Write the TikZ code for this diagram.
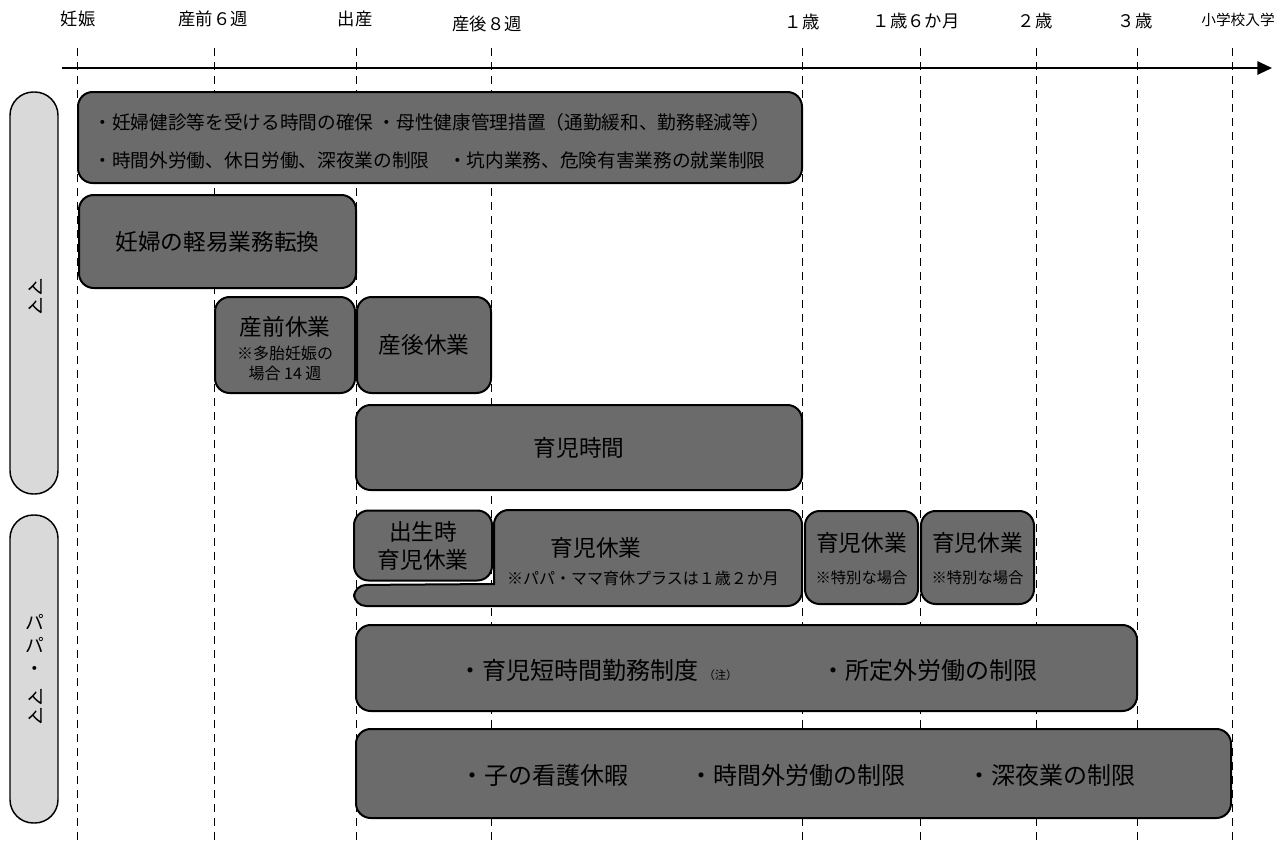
\documentclass[tikz,border=0pt]{standalone}
\usepackage{fontspec}
\setmainfont{Noto Sans CJK JP}
\usetikzlibrary{arrows.meta}

\definecolor{barfill}{RGB}{107,107,107}
\definecolor{sidefill}{RGB}{217,217,217}

\newcommand{\fsz}[1]{\fontsize{#1}{#1}\selectfont}

\tikzset{every picture/.style={line width=0.75pt}}
\tikzset{
  period/.style={draw, line width=1.5pt, fill=barfill, rounded corners=11pt, inner sep=0pt, font=\fsz{17}},
  who/.style={draw, line width=1.1pt, fill=sidefill, rounded corners=17.5pt, inner sep=0pt},
  tickline/.style={dash pattern=on 6pt off 4.5pt, line width=0.75pt},
  lbl/.style={inner sep=0pt, font=\fsz{13}},
  note/.style={inner sep=0pt, font=\fsz{12}},
}

\begin{document}
\begin{tikzpicture}[x=0.75pt,y=0.75pt,yscale=-1,xscale=1]
\useasboundingbox (0,0) rectangle (1286,850);

% Time labels
\foreach \x/\y/\t/\n in {78/19/妊娠/ninshin, 213/19/産前６週/sanzen, 355/19/出産/shussan, 487/24/産後８週/sango, 802/22/１歳/one, 916/21/１歳６か月/onehalf, 1035/21/２歳/two, 1135/21/３歳/three}
  \node[lbl] (\n) at (\x,\y) {\t};
\node[lbl, font=\fsz{11}] (entry) at (1238,20) {小学校入学};

% Dashed guides
\foreach \x [count=\i] in {77,214,356,491,802,920,1036,1137,1232}
  \draw[tickline] (\x,48) coordinate (top\i) -- (\x,845) coordinate (bot\i);

% Time axis
\coordinate (axisL) at (62,68);
\coordinate (axisR) at (1272,68);
\draw[line width=1.5pt, -{Triangle[length=11pt,width=10pt]}] (axisL) -- (axisR);

% Side labels
\node[who, minimum width=36pt, minimum height=301.5pt] (mama) at (34,293) {};
\node[inner sep=0pt, rotate=-90, font=\fsz{14}] (mamaT) at (35,296) {ママ};
\node[who, minimum width=36pt, minimum height=231pt] (papamama) at (34,669) {};
\node[inner sep=0pt, font=\fsz{14}, align=center] (papaT) at (35,645) {パ\\[3pt]パ\\[3pt]・};
\node[inner sep=0pt, rotate=-90, font=\fsz{14}] (papaM) at (35,706) {ママ};

% Text Node
\node[period, minimum width=543pt, minimum height=68.25pt] (protect) at (440,137.5) {};
\node[inner sep=0pt, anchor=west, font=\fsz{14}] (protect1) at (93,122) {・妊婦健診等を受ける時間の確保 ・母性健康管理措置（通勤緩和、勤務軽減等）};
\node[inner sep=0pt, anchor=west, font=\fsz{14}] (protect2) at (93,160) {・時間外労働、休日労働、深夜業の制限　・坑内業務、危険有害業務の就業制限};

% Text Node
\node[period, minimum width=207.75pt, minimum height=69.75pt] (light) at (217.5,241.5) {妊婦の軽易業務転換};

% Text Node
\node[period, minimum width=105pt, minimum height=72pt] (prenatal) at (285,345) {};
\node[inner sep=0pt, font=\fsz{17}] (prenatal1) at (285,327) {産前休業};
\node[note] (prenatal2) at (285,353) {※多胎妊娠の};
\node[note] (prenatal3) at (285,373) {場合 14 週};

% Text Node
\node[period, minimum width=100.5pt, minimum height=72pt] (postnatal) at (424,345) {産後休業};

% Text Node
\node[period, minimum width=334.5pt, minimum height=63.75pt] (nursing) at (579,447.5) {育児時間};

% Shape: childcare leave (L-shaped)
\draw[line width=1.5pt, fill=barfill, rounded corners=11pt]
  (494,584) -- (494,510) -- (802,510) -- (802,606)
  [rounded corners=9pt] -- (354,606) -- (354,585) [sharp corners] -- cycle;
\node[inner sep=0pt, font=\fsz{17}] (leave1) at (596,548) {育児休業};
\node[note] (leave2) at (643,578) {※パパ・ママ育休プラスは１歳２か月};

% Text Node
\node[period, minimum width=103.5pt, minimum height=52.5pt, font=\fsz{17}, align=center] (birthleave) at (423,545.5) {出生時\\[4pt]育児休業};

% Text Node
\node[period, minimum width=84.75pt, minimum height=69.75pt] (ext1) at (861.5,557.5) {};
\node[inner sep=0pt, font=\fsz{17}] (ext1a) at (861.5,543) {育児休業};
\node[note, font=\fsz{11.5}] (ext1b) at (861.5,578) {※特別な場合};
\node[period, minimum width=84.75pt, minimum height=69.75pt] (ext2) at (977.5,557.5) {};
\node[inner sep=0pt, font=\fsz{17}] (ext2a) at (977.5,543) {育児休業};
\node[note, font=\fsz{11.5}] (ext2b) at (977.5,578) {※特別な場合};

% Text Node
\node[period, minimum width=585.75pt, minimum height=64.5pt] (shorthours) at (746.5,668) {};
\node[inner sep=0pt, anchor=west, font=\fsz{18}] (short1) at (458,670) {・育児短時間勤務制度};
\node[inner sep=0pt, anchor=base west, font=\fsz{8.5}] (shortnote) at ([xshift=3pt]short1.base east) {（注）};
\node[inner sep=0pt, font=\fsz{18}] (short2) at (929,670) {・所定外労働の制限};

% Text Node
\node[period, minimum width=656.25pt, minimum height=66.75pt] (basic) at (793.5,773.5) {};
\node[inner sep=0pt, font=\fsz{18}] (care1) at (544,775) {・子の看護休暇};
\node[inner sep=0pt, font=\fsz{18}] (care2) at (797,775) {・時間外労働の制限};
\node[inner sep=0pt, font=\fsz{18}] (care3) at (1051,775) {・深夜業の制限};

\end{tikzpicture}
\end{document}
